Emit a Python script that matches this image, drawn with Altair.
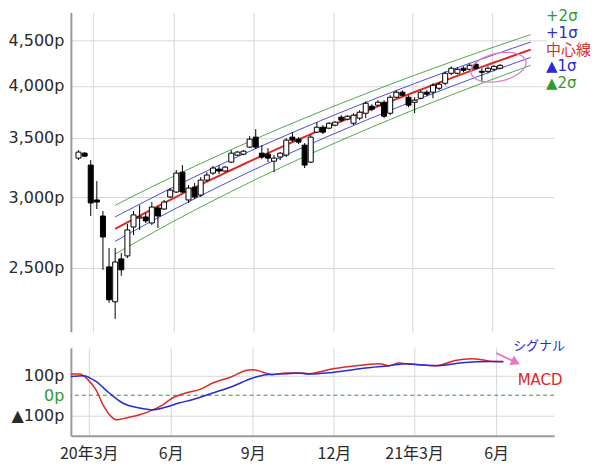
import altair as alt
import pandas as pd
import numpy as np

# ---------------- weekly candles (price, p) ----------------
candle_start = "2020-02-13"
opens = [3320, 3363, 3261, 2980, 2859, 2507, 2291, 2559, 2579, 2779,
         2844, 2852, 2808, 2919, 2911, 3003, 3042, 3202, 2980, 3081,
         3018, 3137, 3194, 3227, 3211, 3286, 3346, 3354, 3416, 3505,
         3363, 3354, 3294, 3329, 3346, 3505, 3487, 3433, 3286, 3550,
         3596, 3587, 3615, 3690, 3671, 3633, 3681, 3728, 3796, 3806,
         3835, 3728, 3885, 3936, 3885, 3835, 3875, 3936, 3936, 3976,
         4028, 4133, 4133, 4187, 4176, 4230, 4154, 4154, 4176, 4187]
closes = [3372, 3337, 2957, 2964, 2708, 2303, 2539, 2488, 2758, 2867,
          2852, 2823, 2926, 2859, 2964, 3057, 3194, 3042, 3073, 3003,
          3137, 3178, 3236, 3211, 3244, 3363, 3372, 3380, 3487, 3416,
          3329, 3320, 3320, 3363, 3478, 3478, 3460, 3261, 3505, 3596,
          3550, 3633, 3643, 3662, 3699, 3709, 3738, 3825, 3767, 3835,
          3699, 3885, 3936, 3905, 3806, 3856, 3936, 3916, 4007, 4018,
          4133, 4187, 4176, 4165, 4219, 4187, 4144, 4187, 4208, 4219]
highs = [3389, 3372, 3303, 3129, 2896, 2633, 2633, 2599, 2801, 2896,
         2941, 2881, 2964, 2934, 2980, 3073, 3219, 3261, 3097, 3113,
         3161, 3202, 3253, 3261, 3253, 3389, 3380, 3389, 3514, 3578,
         3433, 3407, 3346, 3372, 3496, 3550, 3505, 3451, 3523, 3643,
         3615, 3643, 3652, 3709, 3709, 3728, 3757, 3845, 3816, 3856,
         3856, 3905, 3956, 3956, 3905, 3885, 3956, 3956, 4028, 4038,
         4154, 4208, 4198, 4208, 4241, 4252, 4187, 4208, 4219, 4230]
lows = [3303, 3329, 2859, 2911, 2488, 2285, 2192, 2450, 2565, 2722,
        2758, 2808, 2793, 2772, 2904, 2995, 3034, 3034, 2957, 2987,
        3003, 3121, 3178, 3186, 3202, 3278, 3337, 3346, 3407, 3398,
        3312, 3286, 3202, 3303, 3329, 3460, 3442, 3236, 3278, 3541,
        3532, 3578, 3605, 3643, 3662, 3615, 3662, 3681, 3748, 3796,
        3681, 3709, 3875, 3895, 3786, 3728, 3865, 3895, 3875, 3956,
        4007, 4112, 4122, 4144, 4165, 4176, 4038, 4133, 4154, 4176]

# ---------------- trend channel (regression line, +-1/2 sigma) ----------------
trend_dates = ["2020-03-26", "2021-07-15"]
trend_center = [2765, 4393]
trend_sigma = 87
band_names = ["+2σ", "+1σ", "中心線", "▲1σ", "▲2σ"]
band_mult = [2, 1, 0, -1, -2]

# ---------------- MACD / signal (p) ----------------
macd_dates = ["2020-02-10", "2020-02-20", "2020-02-29", "2020-03-09", "2020-03-18",
              "2020-03-26", "2020-04-01", "2020-04-12", "2020-04-27", "2020-05-08",
              "2020-05-23", "2020-06-03", "2020-06-18", "2020-07-03", "2020-07-18",
              "2020-08-09", "2020-08-24", "2020-09-01", "2020-09-12", "2020-09-23",
              "2020-10-08", "2020-10-22", "2020-11-03", "2020-11-14", "2020-11-29",
              "2020-12-14", "2021-01-06", "2021-01-21", "2021-02-01", "2021-02-12",
              "2021-02-23", "2021-03-07", "2021-03-21", "2021-04-01", "2021-04-16",
              "2021-05-05", "2021-05-16", "2021-05-28", "2021-06-09"]
macd_vals = [106, 106, 78, 28, -56, -106, -123, -114, -98, -81,
             -48, -14, 11, 28, 61, 94, 124, 128, 116, 103,
             111, 111, 108, 116, 131, 141, 153, 158, 148, 161,
             156, 153, 148, 153, 174, 183, 178, 169, 169]
signal_dates = ["2020-02-10", "2020-02-24", "2020-03-09", "2020-03-24", "2020-04-08",
                "2020-04-27", "2020-05-12", "2020-05-27", "2020-06-10", "2020-06-25",
                "2020-07-18", "2020-08-09", "2020-09-01", "2020-09-16", "2020-10-08",
                "2020-10-22", "2020-11-03", "2020-11-29", "2021-01-06", "2021-02-01",
                "2021-02-20", "2021-03-07", "2021-03-29", "2021-04-16", "2021-05-09",
                "2021-05-28", "2021-06-09"]
signal_vals = [94, 98, 69, 11, -39, -64, -73, -59, -39, -23,
               11, 44, 86, 103, 108, 111, 106, 114, 136, 148,
               158, 153, 148, 158, 168, 169, 168]

ellipse_date = ["2021-06-08"]
ellipse_price = [4198]
arrow_dates = ["2021-06-01", "2021-06-20"]
arrow_vals = [211, 172]
arrow_head_date = ["2021-06-23"]
arrow_head_val = [165]

# ---------------- tables ----------------
candles = pd.DataFrame({
    "date": pd.date_range(candle_start, periods=len(opens), freq="7D").strftime("%Y-%m-%d"),
    "open": opens, "close": closes, "high": highs, "low": lows,
})

t0, t1 = pd.Timestamp(trend_dates[0]), pd.Timestamp(trend_dates[1])
tdays = list(pd.date_range(t0, t1, freq="7D"))
if tdays[-1] != t1:
    tdays.append(t1)
rows = []
for name, m in zip(band_names, band_mult):
    for d in tdays:
        frac = (d - t0).days / (t1 - t0).days
        rows.append({"band": name, "date": d.strftime("%Y-%m-%d"),
                     "price": trend_center[0] + (trend_center[1] - trend_center[0]) * frac + m * trend_sigma})
channel = pd.DataFrame(rows)

macd = pd.DataFrame({"date": macd_dates, "v": macd_vals})
signal = pd.DataFrame({"date": signal_dates, "v": signal_vals})

# ---------------- styles ----------------
GRID = "#d6d6d6"
AXIS = "#9a9a9a"
TXT = "#2a2a2a"
GREEN = "#2f9a2f"
BLUE = "#2a2ad6"
RED = "#e02828"
PINK = "#e67ac8"
LAT = "DejaVu Sans, Noto Sans CJK JP"
CJK = "Noto Sans CJK JP, DejaVu Sans"
W = 484

month_ticks = [alt.DateTime(year=2020, month=3, date=1, utc=True),
               alt.DateTime(year=2020, month=6, date=1, utc=True),
               alt.DateTime(year=2020, month=9, date=1, utc=True),
               alt.DateTime(year=2020, month=12, date=1, utc=True),
               alt.DateTime(year=2021, month=3, date=1, utc=True),
               alt.DateTime(year=2021, month=6, date=1, utc=True)]
xscale = alt.Scale(type="utc", domain=[alt.DateTime(year=2020, month=2, date=10, utc=True),
                                       alt.DateTime(year=2021, month=8, date=5, utc=True)])
x_top_axis = alt.Axis(values=month_ticks, grid=True, gridColor=GRID, labels=False,
                      ticks=False, domain=False, title=None)

yscale_top = alt.Scale(type="log", domain=[2120, 4837], nice=False)
y_top_axis = alt.Axis(values=[2500, 3000, 3500, 4000, 4500],
                      labelExpr="format(datum.value, ',') + 'p'",
                      grid=True, gridColor=GRID, ticks=False, domainColor=AXIS, domainWidth=2,
                      labelFont="DejaVu Sans", labelFontSize=16, labelColor=TXT, labelPadding=7,
                      minExtent=63, maxExtent=63, title=None)

def X(field="date"):
    return alt.X(f"{field}:T", scale=xscale, axis=x_top_axis, title=None)

def Ytop(field):
    return alt.Y(f"{field}:Q", scale=yscale_top, axis=y_top_axis, title=None)

band_colors = alt.Scale(domain=band_names, range=[GREEN, BLUE, RED, BLUE, GREEN])
lines = alt.Chart(channel).mark_line(strokeWidth=1, opacity=0.85).encode(
    x=X(), y=Ytop("price"),
    color=alt.Color("band:N", scale=band_colors, legend=None),
    detail="band:N",
).transform_filter("datum.band != '中心線'")
center = alt.Chart(channel).mark_line(strokeWidth=2, color=RED).encode(
    x=X(), y=Ytop("price"),
).transform_filter("datum.band == '中心線'")

wicks = alt.Chart(candles).mark_rule(color="black", strokeWidth=1).encode(
    x=X(), y=Ytop("low"), y2="high:Q")
bodies = alt.Chart(candles).mark_bar(size=5, stroke="black", strokeWidth=1).encode(
    x=X(), y=Ytop("open"), y2="close:Q",
    fill=alt.condition("datum.close >= datum.open", alt.value("white"), alt.value("black")))

ell_df = pd.DataFrame({"date": ellipse_date, "price": ellipse_price})
ellipse = alt.Chart(ell_df).mark_point(
    shape="M -1 0 A 1 0.5 0 1 1 1 0 A 1 0.5 0 1 1 -1 0 Z",
    size=3136, angle=348, filled=False, stroke=PINK, strokeWidth=1.3, opacity=1,
).encode(x=X(), y=Ytop("price"))

label_df = pd.DataFrame({"t": [0]})
# white backing behind the side labels (the reference's gridlines stop there)
label_back = alt.Chart(label_df).mark_rect(color="white").encode(
    x=alt.value(477), x2=alt.value(486), y=alt.value(22), y2=alt.value(80))

def side_label(text, color, ypix):
    return alt.Chart(label_df).mark_text(
        text=text, color=color, font=LAT, fontSize=15, align="left", baseline="middle"
    ).encode(x=alt.value(476), y=alt.value(ypix))

top = alt.layer(
    lines, center, wicks, bodies, ellipse, label_back,
    side_label(band_names[0], GREEN, 3.5),
    side_label(band_names[1], BLUE, 20.5),
    side_label(band_names[2], RED, 37.5),
    side_label(band_names[3], BLUE, 54),
    side_label(band_names[4], GREEN, 70.5),
).properties(width=W, height=320)

# ---------------- MACD panel ----------------
x_bot_axis = alt.Axis(values=month_ticks, grid=True, gridColor=GRID, ticks=False,
                      domainColor=AXIS, domainWidth=2,
                      labelExpr="utcmonth(datum.value) == 2 ? utcFormat(datum.value, '%y') + '年3月' : (utcmonth(datum.value) + 1) + '月'",
                      labelFont=CJK, labelFontSize=16, labelColor=TXT, labelPadding=10, title=None)
yscale_bot = alt.Scale(domain=[-202.5, 237.5], nice=False, zero=False)
y_bot_axis = alt.Axis(values=[-100, 0, 100],
                      labelExpr="datum.value < 0 ? '▲' + format(-datum.value, 'd') + 'p' : format(datum.value, 'd') + 'p'",
                      labelColor={"condition": {"test": "datum.value == 0", "value": GREEN}, "value": TXT},
                      gridColor={"condition": {"test": "datum.value == 0", "value": "transparent"}, "value": GRID},
                      grid=True, ticks=False, domainColor=AXIS, domainWidth=2,
                      labelFont="DejaVu Sans", labelFontSize=16, labelPadding=7,
                      minExtent=63, maxExtent=63, title=None)

def Xb(field="date"):
    return alt.X(f"{field}:T", scale=xscale, axis=x_bot_axis, title=None)

def Yb(field="v"):
    return alt.Y(f"{field}:Q", scale=yscale_bot, axis=y_bot_axis, title=None)

zero_line = alt.Chart(pd.DataFrame({"v": [0]})).mark_rule(
    color=GREEN, strokeDash=[4, 3], strokeWidth=1).encode(y=Yb())
macd_line = alt.Chart(macd).mark_line(color=RED, strokeWidth=1.5, interpolate="monotone").encode(
    x=Xb(), y=Yb())
signal_line = alt.Chart(signal).mark_line(color=BLUE, strokeWidth=1.5, interpolate="monotone").encode(
    x=Xb(), y=Yb())
arrow = alt.Chart(pd.DataFrame({"date": arrow_dates, "v": arrow_vals})).mark_line(
    color=PINK, strokeWidth=2).encode(x=Xb(), y=Yb())
arrow_head = alt.Chart(pd.DataFrame({"date": arrow_head_date, "v": arrow_head_val})).mark_point(
    shape="triangle-right", filled=True, color=PINK, size=110, angle=25, opacity=1).encode(x=Xb(), y=Yb())
sig_text = alt.Chart(label_df).mark_text(
    text="シグナル", color=BLUE, font=CJK, fontSize=13, align="center", baseline="middle"
).encode(x=alt.value(469), y=alt.value(-2))
macd_text = alt.Chart(label_df).mark_text(
    text="MACD", color=RED, font="DejaVu Sans", fontSize=15, align="center", baseline="middle"
).encode(x=alt.value(470), y=alt.value(32))

bottom = alt.layer(
    zero_line, macd_line, signal_line, arrow, arrow_head, sig_text, macd_text
).properties(width=W, height=88)

chart = alt.vconcat(top, bottom, spacing=16, bounds="flush").properties(
    padding={"left": 0, "top": 0, "right": 0, "bottom": 1}
).configure_view(stroke=None)

chart.save("out.html", embed_options={"renderer": "svg", "actions": False})
